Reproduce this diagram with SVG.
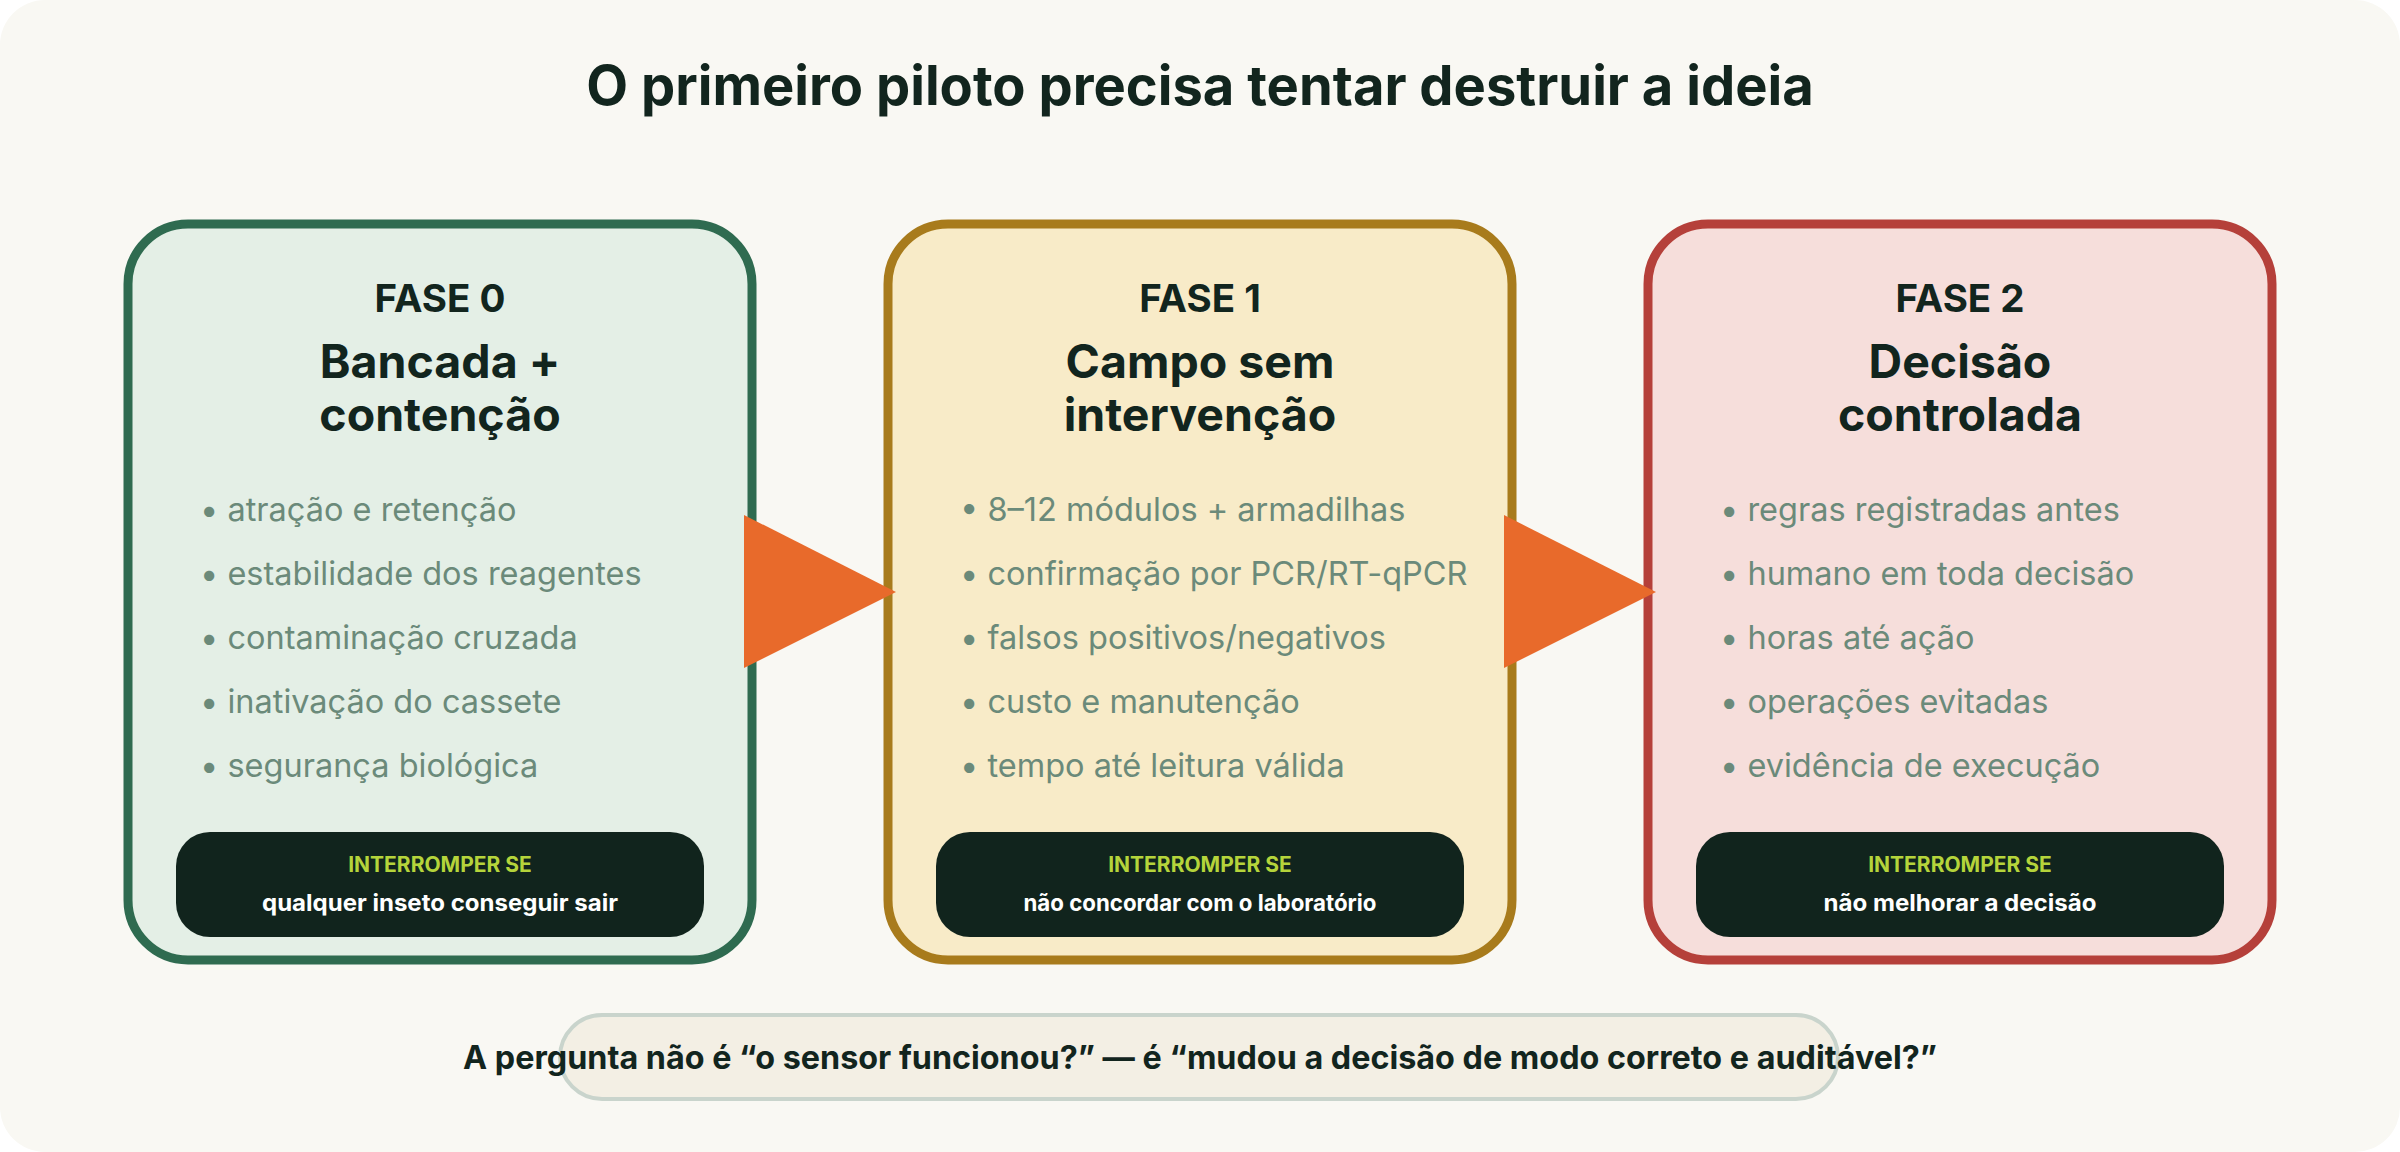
<svg xmlns="http://www.w3.org/2000/svg" width="2400" height="1152" viewBox="0 0 2400 1152">
  <style>
    text { font-family: Inter, "Liberation Sans", sans-serif; }
    .title { font-size: 54.3px; font-weight: 700; fill: #12251e; text-anchor: middle; }
    .phase { font-size: 38.5px; font-weight: 700; fill: #12251e; text-anchor: middle; }
    .name { font-size: 46.5px; font-weight: 700; fill: #12251e; text-anchor: middle; }
    .item { font-size: 32.5px; font-weight: 400; fill: #6b8a7a; }
    .stop { fill: #11241d; }
    .stopk { font-size: 21px; font-weight: 700; fill: #b5d43b; text-anchor: middle; }
    .stopv { font-size: 23px; font-weight: 700; fill: #ffffff; text-anchor: middle; }
    .arrow { fill: #e86a2b; }
    .note { font-size: 32.3px; font-weight: 700; fill: #12251e; text-anchor: middle; }
  </style>
  <rect x="0" y="0" width="2400" height="1152" fill="#ffffff"/>
  <rect x="0" y="0" width="2400" height="1152" rx="45" fill="#f9f8f3"/>
  <text class="title" x="1200" y="105">O primeiro piloto precisa tentar destruir a ideia</text>

  <g id="fase0">
    <rect x="128" y="224" width="624" height="736" rx="60" fill="#e4efe6" stroke="#2f6b50" stroke-width="9"/>
    <text class="phase" x="440" y="312">FASE 0</text>
    <text class="name" x="440" y="378">Bancada +</text>
    <text class="name" x="440" y="431">contenção</text>
    <text class="item" x="200" y="521">• atração e retenção</text>
    <text class="item" x="200" y="585">• estabilidade dos reagentes</text>
    <text class="item" x="200" y="649">• contaminação cruzada</text>
    <text class="item" x="200" y="713">• inativação do cassete</text>
    <text class="item" x="200" y="777">• segurança biológica</text>
    <rect class="stop" x="176" y="832" width="528" height="105" rx="34"/>
    <text class="stopk" x="440" y="872">INTERROMPER SE</text>
    <text class="stopv" x="440" y="911" textLength="356" lengthAdjust="spacingAndGlyphs">qualquer inseto conseguir sair</text>
  </g>

  <g id="fase1">
    <rect x="888" y="224" width="624" height="736" rx="60" fill="#f8ebc8" stroke="#a87b1c" stroke-width="9"/>
    <text class="phase" x="1200" y="312">FASE 1</text>
    <text class="name" x="1200" y="378">Campo sem</text>
    <text class="name" x="1200" y="431">intervenção</text>
    <text class="item" x="960" y="521">• 8–12 módulos + armadilhas</text>
    <text class="item" x="960" y="585">• confirmação por PCR/RT-qPCR</text>
    <text class="item" x="960" y="649">• falsos positivos/negativos</text>
    <text class="item" x="960" y="713">• custo e manutenção</text>
    <text class="item" x="960" y="777">• tempo até leitura válida</text>
    <rect class="stop" x="936" y="832" width="528" height="105" rx="34"/>
    <text class="stopk" x="1200" y="872">INTERROMPER SE</text>
    <text class="stopv" x="1200" y="911" textLength="353" lengthAdjust="spacingAndGlyphs">não concordar com o laboratório</text>
  </g>

  <g id="fase2">
    <rect x="1648" y="224" width="624" height="736" rx="60" fill="#f6dedb" stroke="#b5403a" stroke-width="9"/>
    <text class="phase" x="1960" y="312">FASE 2</text>
    <text class="name" x="1960" y="378">Decisão</text>
    <text class="name" x="1960" y="431">controlada</text>
    <text class="item" x="1720" y="521">• regras registradas antes</text>
    <text class="item" x="1720" y="585">• humano em toda decisão</text>
    <text class="item" x="1720" y="649">• horas até ação</text>
    <text class="item" x="1720" y="713">• operações evitadas</text>
    <text class="item" x="1720" y="777">• evidência de execução</text>
    <rect class="stop" x="1696" y="832" width="528" height="105" rx="34"/>
    <text class="stopk" x="1960" y="872">INTERROMPER SE</text>
    <text class="stopv" x="1960" y="911" textLength="273" lengthAdjust="spacingAndGlyphs">não melhorar a decisão</text>
  </g>

  <g id="connectors">
    <polygon class="arrow" points="744,515 896,592 744,668"/>
    <polygon class="arrow" points="1504,515 1656,592 1504,668"/>
  </g>

  <g id="note">
    <rect x="560" y="1015" width="1278" height="84" rx="42" fill="#f3efe4" stroke="#c9d4cc" stroke-width="4"/>
    <text class="note" x="1200" y="1069" textLength="1474" lengthAdjust="spacing">A pergunta não é “o sensor funcionou?” — é “mudou a decisão de modo correto e auditável?”</text>
  </g>
</svg>
